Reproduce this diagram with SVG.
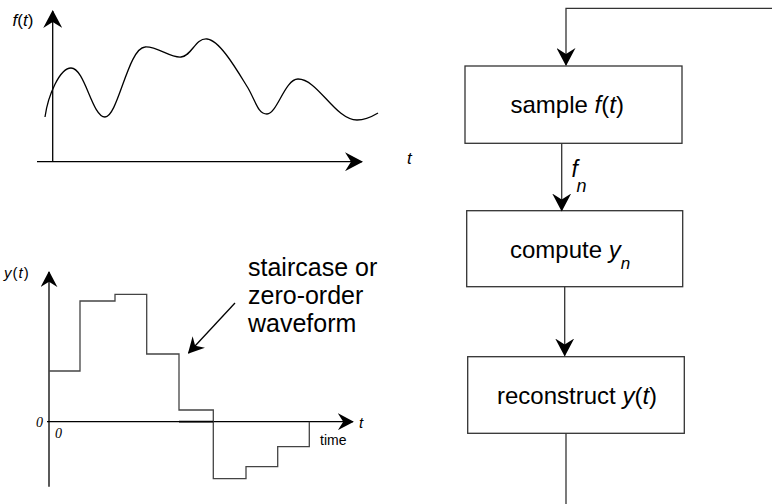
<svg xmlns="http://www.w3.org/2000/svg" width="772" height="504" viewBox="0 0 772 504">
<style>
text{font-family:"Liberation Sans",Arial,sans-serif;fill:#000}
.it{font-style:italic}
.ser{font-family:"Liberation Serif","Times New Roman",serif;font-style:italic}
.box{fill:#fff;stroke:#333;stroke-width:1.3}
.ln{fill:none;stroke:#333;stroke-width:1.3}
.ax{fill:none;stroke:#000;stroke-width:1.3}
.stair{fill:none;stroke:#444;stroke-width:1.3}
.lbl{font-size:24px}
.ann{font-size:25px}
</style>
<defs>
<marker id="ah" viewBox="0 0 18 19" refX="17" refY="9.5" markerWidth="18" markerHeight="19" markerUnits="userSpaceOnUse" orient="auto">
<path d="M0,0 L18,9.5 L0,19 L6,9.5 z" fill="#000"/>
</marker>
<marker id="ahs" viewBox="0 0 18 19" refX="17" refY="9.5" markerWidth="16" markerHeight="17" markerUnits="userSpaceOnUse" orient="auto">
<path d="M0,0 L18,9.5 L0,19 L6,9.5 z" fill="#000"/>
</marker>
</defs>

<g id="plot-f">
<line class="ax" x1="52.7" y1="161.7" x2="52.7" y2="11" marker-end="url(#ah)"/>
<line class="ax" x1="37" y1="161.7" x2="362" y2="161.7" marker-end="url(#ah)"/>
<path class="ax" d="M45,117 C48,95 60,68 71,68 C85,68 92,117 105,117 C118,117 128,48 145,47 C157,46 170,58 181,57 C192,56 195,38 207,39 C220,40 238,72 248,88 C256,102 258,114 267,114 C277,114 285,79 298,79 C318,79 335,120 357,120 C367,120 373,116 378,113"/>
<text x="12.5" y="26" font-size="17"><tspan class="it">f</tspan>(<tspan class="it">t</tspan>)</text>
<text x="407" y="164" font-size="17" class="it">t</text>
</g>

<g id="plot-y">
<line class="ax" x1="49" y1="486.7" x2="49" y2="272" marker-end="url(#ahs)"/>
<line class="ax" x1="47" y1="421.7" x2="353" y2="421.7" marker-end="url(#ahs)"/>
<path class="stair" d="M49,371 H80 V301 H115 V294.3 H146.7 V354 H179 V410 H213.3 V478.7 H246 V466.7 H277.7 V446.7 H309.3 V421.7"/>
<line x1="179" y1="421.7" x2="213.3" y2="421.7" stroke="#000" stroke-width="1.8"/>
<text x="4" y="278" font-size="15" letter-spacing="1"><tspan class="it">y</tspan>(<tspan class="it">t</tspan>)</text>
<text x="36" y="427" font-size="14" class="ser">0</text>
<text x="55" y="438" font-size="14" class="ser">0</text>
<text x="359" y="428" font-size="15" class="it">t</text>
<text x="320" y="445" font-size="14">time</text>
<text x="248" y="276" class="ann">staircase or</text>
<text x="248" y="304" class="ann">zero-order</text>
<text x="248" y="332" class="ann">waveform</text>
<line class="ax" x1="235" y1="303" x2="188.5" y2="353" stroke-width="1" marker-end="url(#ahs)"/>
</g>

<g id="sample">
<rect class="box" x="465" y="66" width="217" height="77.3"/>
<text x="510.5" y="113" class="lbl">sample <tspan class="it">f</tspan>(<tspan class="it">t</tspan>)</text>
</g>

<g id="compute">
<rect class="box" x="466.7" y="210.7" width="216" height="76"/>
<text x="510" y="258" class="lbl">compute <tspan class="it">y</tspan><tspan class="it" font-size="17" dy="11">n</tspan></text>
</g>

<g id="reconstruct">
<rect class="box" x="467.7" y="356.7" width="216.6" height="76.6"/>
<text x="497" y="404" class="lbl">reconstruct <tspan class="it">y</tspan>(<tspan class="it">t</tspan>)</text>
</g>

<g id="connectors">
<polyline class="ln" points="772,8.3 566,8.3 566,65" marker-end="url(#ah)"/>
<line class="ln" x1="561.7" y1="143.3" x2="561.7" y2="210.5" marker-end="url(#ah)"/>
<text x="571.5" y="177" font-size="23" class="it">f</text>
<text x="576.5" y="192" font-size="18" class="it">n</text>
<line class="ln" x1="564.7" y1="286.7" x2="564.7" y2="355.5" marker-end="url(#ah)"/>
<line class="ln" x1="566" y1="433.3" x2="566" y2="504"/>
</g>
</svg>
